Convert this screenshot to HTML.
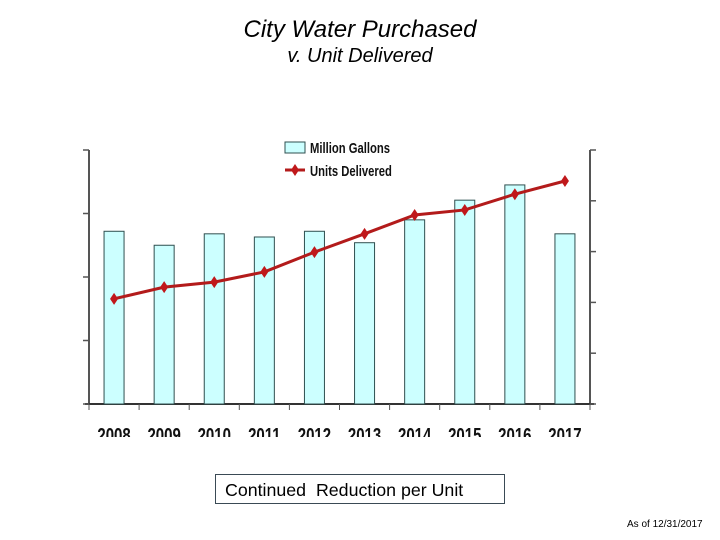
<!DOCTYPE html>
<html><head><meta charset="utf-8"><style>
html,body{margin:0;padding:0;background:#fff;}
body{width:720px;height:540px;position:relative;overflow:hidden;font-family:"Liberation Sans",Arial,sans-serif;}
.t{position:absolute;left:0;width:720px;text-align:center;font-style:italic;color:#000;}
</style></head><body>
<div class="t" style="top:16px;font-size:24px;">City Water Purchased</div>
<div class="t" style="top:45px;font-size:20px;">v. Unit Delivered</div>
<svg id="c" width="720" height="540" style="position:absolute;left:0;top:0"></svg>
<div style="position:absolute;left:215px;top:474px;width:290px;height:30px;border:1px solid #3a4a55;box-sizing:border-box;font-size:17.8px;padding:5px 0 0 9px;">Continued&nbsp; Reduction per Unit</div>
<div style="position:absolute;left:627px;top:519px;font-size:10px;">As of 12/31/2017</div>
<script>
const years=["2008","2009","2010","2011","2012","2013","2014","2015","2016","2017"];
const gallons=[2.72,2.50,2.68,2.63,2.72,2.54,2.90,3.21,3.45,2.68];
const units=[2.07,2.30,2.40,2.60,2.99,3.35,3.72,3.82,4.13,4.39];
const leftMax=4, rightMax=5;
const L=89,R=590,T=150,B=404;
const svg=document.getElementById('c');const NS="http://www.w3.org/2000/svg";
function mk(t,a,p){const e=document.createElementNS(NS,t);for(const k in a)e.setAttribute(k,a[k]);(p||svg).appendChild(e);return e;}
const bw=(R-L)/years.length;
const xc=i=>L+bw*(i+0.5);
const yl=v=>B-(v/leftMax)*(B-T);
const yr=v=>B-(v/rightMax)*(B-T);
let a=mk('line',{x1:L,y1:T,x2:L,y2:B,stroke:'#555','stroke-width':2});

a=mk('line',{x1:R,y1:T,x2:R,y2:B,stroke:'#555','stroke-width':2});

a=mk('line',{x1:L-4,y1:B,x2:R+4,y2:B,stroke:'#333','stroke-width':2});

for(let k=0;k<=leftMax;k++){const y=yl(k);const t=mk('line',{x1:L-6,y1:y,x2:L,y2:y,stroke:'#555','stroke-width':1.5});
}
for(let k=0;k<=rightMax;k++){const y=yr(k);const t=mk('line',{x1:R,y1:y,x2:R+6,y2:y,stroke:'#555','stroke-width':1.5});
}
for(let i=0;i<=years.length;i++){const x=L+bw*i;const t=mk('line',{x1:x,y1:B,x2:x,y2:B+6,stroke:'#555','stroke-width':1});
}
gallons.forEach((v,i)=>{const y=yl(v);const r=mk('rect',{x:xc(i)-10,y:y,width:20,height:B-y,fill:'#ccffff',stroke:'#2f4f4f','stroke-width':1});
});
const pts=units.map((v,i)=>xc(i)+','+yr(v)).join(' ');
const pl=mk('polyline',{points:pts,fill:'none',stroke:'#b31b1b','stroke-width':3});

units.forEach((v,i)=>{const x=xc(i),y=yr(v);const d=mk('polygon',{points:`${x},${y-6} ${x+4},${y} ${x},${y+6} ${x-4},${y}`,fill:'#c0181b'});
});
const cp=mk('clipPath',{id:'cl'});mk('rect',{x:0,y:410,width:720,height:27},cp);
const g=mk('g',{'clip-path':'url(#cl)'});
years.forEach((yv,i)=>{const t=mk('text',{x:xc(i),y:442,'text-anchor':'middle','font-size':20,'font-weight':'bold','font-family':'Liberation Sans Narrow, Liberation Sans, sans-serif',fill:'#111',transform:`translate(${xc(i)},0) scale(0.75,1) translate(${-xc(i)},0)`},g);t.textContent=yv;
});
let lr=mk('rect',{x:285,y:142,width:20,height:11,fill:'#ccffff',stroke:'#2f4f4f','stroke-width':1});

let lt=mk('text',{x:310,y:153,'font-size':15,'font-weight':'bold',fill:'#111',transform:'translate(310,0) scale(0.75,1) translate(-310,0)'});lt.textContent='Million Gallons';

let ll=mk('line',{x1:285,y1:170,x2:305,y2:170,stroke:'#b31b1b','stroke-width':3});

let ld=mk('polygon',{points:'295,164 299,170 295,176 291,170',fill:'#c0181b'});

lt=mk('text',{x:310,y:176,'font-size':15,'font-weight':'bold',fill:'#111',transform:'translate(310,0) scale(0.75,1) translate(-310,0)'});lt.textContent='Units Delivered';

</script>
</body></html>
